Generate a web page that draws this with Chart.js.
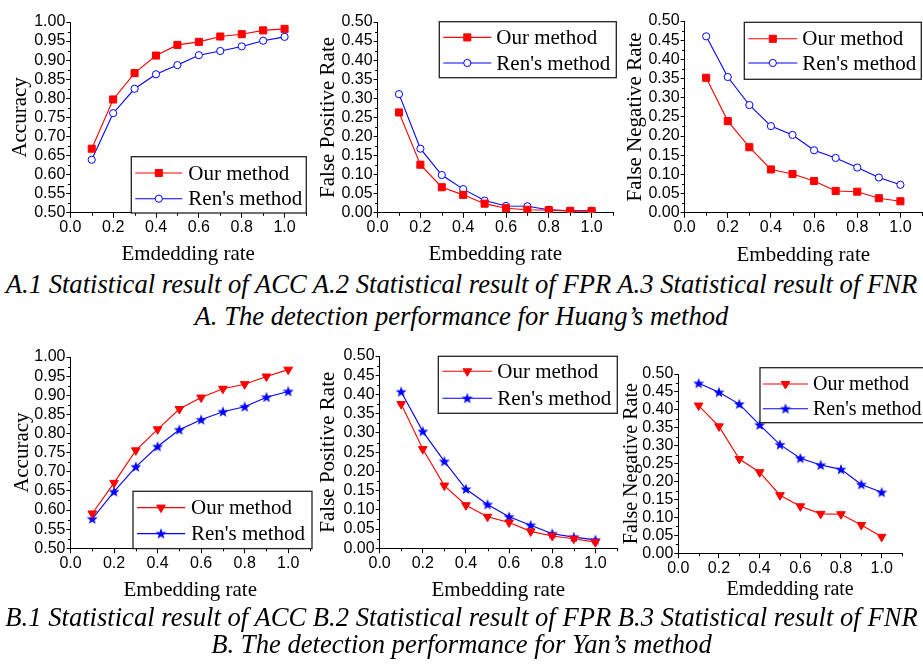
<!DOCTYPE html>
<html><head><meta charset="utf-8">
<script src="https://cdn.jsdelivr.net/npm/chart.js@4.4.0/dist/chart.umd.min.js"></script>
<style>
html,body{margin:0;padding:0;background:#fff;width:923px;height:664px;overflow:hidden;}
body{position:relative;}
canvas{position:absolute;}
.cap{position:absolute;left:0;width:923px;text-align:center;font-family:"Liberation Serif","Times New Roman",serif;font-style:italic;white-space:nowrap;line-height:1;color:#000;}
</style></head><body>
<canvas id="a1"></canvas><canvas id="a2"></canvas><canvas id="a3"></canvas>
<canvas id="b1"></canvas><canvas id="b2"></canvas><canvas id="b3"></canvas>
<div class="cap" id="capA1">A.1 Statistical result of ACC A.2 Statistical result of FPR A.3 Statistical result of FNR</div>
<div class="cap" id="capA2">A. The detection performance for Huang’s method</div>
<div class="cap" id="capB1">B.1 Statistical result of ACC B.2 Statistical result of FPR B.3 Statistical result of FNR</div>
<div class="cap" id="capB2">B. The detection performance for Yan’s method</div>
<script>
// ---- data ----
const rates = [0.1,0.2,0.3,0.4,0.5,0.6,0.7,0.8,0.9,1.0];
const seriesNames = ["Our method","Ren's method"];
// A: Huang's method
const accOurA = [0.668,0.797,0.866,0.912,0.940,0.948,0.962,0.968,0.978,0.982];
const accRenA = [0.639,0.761,0.825,0.863,0.887,0.913,0.924,0.936,0.951,0.961];
const fprOurA = [0.263,0.126,0.067,0.047,0.024,0.012,0.008,0.007,0.005,0.005];
const fprRenA = [0.311,0.168,0.099,0.062,0.032,0.018,0.017,0.008,0.005,0.005];
const fnrOurA = [0.352,0.239,0.171,0.113,0.101,0.083,0.057,0.055,0.038,0.030];
const fnrRenA = [0.460,0.354,0.281,0.226,0.203,0.163,0.143,0.118,0.092,0.073];
// B: Yan's method
const accOurB = [0.591,0.671,0.756,0.811,0.864,0.894,0.917,0.929,0.949,0.967];
const accRenB = [0.577,0.648,0.713,0.766,0.810,0.836,0.857,0.870,0.895,0.910];
const fprOurB = [0.375,0.258,0.163,0.112,0.082,0.067,0.044,0.032,0.025,0.016];
const fprRenB = [0.407,0.304,0.226,0.154,0.114,0.082,0.060,0.038,0.029,0.022];
const fnrOurB = [0.412,0.354,0.263,0.226,0.162,0.131,0.110,0.109,0.079,0.046];
const fnrRenB = [0.474,0.449,0.416,0.358,0.303,0.265,0.246,0.234,0.192,0.170];
// ticks
const xTicks = [0.0,0.2,0.4,0.6,0.8,1.0];
const xMinorTicks = [0.1,0.3,0.5,0.7,0.9,1.1];
const yTicksAcc = [0.50,0.55,0.60,0.65,0.70,0.75,0.80,0.85,0.90,0.95,1.00];
const yTicksRate = [0.00,0.05,0.10,0.15,0.20,0.25,0.30,0.35,0.40,0.45,0.50];

// ---- markers ----
function makeStar(color){
  const c=document.createElement('canvas'); c.width=12; c.height=12;
  const g=c.getContext('2d'); g.fillStyle=color; g.beginPath();
  for(let i=0;i<10;i++){const r=i%2?2.4:5.8; const a=-Math.PI/2+i*Math.PI/5; g.lineTo(6+r*Math.cos(a),6.4+r*Math.sin(a));}
  g.closePath(); g.fill(); return c;
}
const starBlue = makeStar('#0000ff');
const styleA = [
  {pointStyle:'rect',pointRadius:5,pointBackgroundColor:'#ff0000',pointBorderColor:'#ff0000',pointBorderWidth:1,borderColor:'#ff0000'},
  {pointStyle:'circle',pointRadius:3.6,pointBackgroundColor:'#ffffff',pointBorderColor:'#0000ff',pointBorderWidth:1,borderColor:'#0000ff'}
];
const styleB = [
  {pointStyle:'triangle',pointRotation:180,pointRadius:5,pointBackgroundColor:'#ff0000',pointBorderColor:'#ff0000',pointBorderWidth:1,borderColor:'#ff0000'},
  {pointStyle:starBlue,pointRadius:5,pointBackgroundColor:'#0000ff',pointBorderColor:'#0000ff',pointBorderWidth:0,borderColor:'#0000ff'}
];

// ---- plugins ----
const minorTicks = {
  id:'minorTicks',
  afterDraw(chart,args,o){
    const ctx=chart.ctx, xs=chart.scales.x, ys=chart.scales.y;
    ctx.save(); ctx.strokeStyle='#000'; ctx.lineWidth=1; ctx.beginPath();
    o.x.forEach(v=>{const p=Math.round(xs.getPixelForValue(v))+0.5; ctx.moveTo(p,xs.top); ctx.lineTo(p,xs.top+3);});
    o.y.forEach(v=>{const p=Math.round(ys.getPixelForValue(v))+0.5; ctx.moveTo(ys.right,p); ctx.lineTo(ys.right-2.5,p);});
    ctx.stroke(); ctx.restore();
  }
};
const boxLegend = {
  id:'boxLegend',
  afterDraw(chart,args,o){
    const ctx=chart.ctx, ox=o.offset[0], oy=o.offset[1];
    const x1=o.box[0]-ox, y1=o.box[1]-oy, x2=o.box[2]-ox, y2=o.box[3]-oy;
    ctx.save();
    ctx.fillStyle='#fff'; ctx.fillRect(x1,y1,x2-x1,y2-y1);
    ctx.strokeStyle='#222'; ctx.lineWidth=1.3; ctx.strokeRect(x1,y1,x2-x1,y2-y1);
    chart.data.datasets.forEach((ds,i)=>{
      const y=o.rows[i]-oy, a=o.line[0]-ox, b=o.line[1]-ox;
      ctx.strokeStyle=ds.borderColor; ctx.lineWidth=ds.borderWidth;
      ctx.beginPath(); ctx.moveTo(a,y); ctx.lineTo(b,y); ctx.stroke();
      ctx.fillStyle=ds.pointBackgroundColor; ctx.strokeStyle=ds.pointBorderColor; ctx.lineWidth=ds.pointBorderWidth;
      Chart.helpers.drawPoint(ctx,{pointStyle:ds.pointStyle,rotation:ds.pointRotation||0,radius:ds.pointRadius,borderWidth:ds.pointBorderWidth},(a+b)/2,y);
      ctx.fillStyle='#000'; ctx.font=o.font+'px "Liberation Serif", "Times New Roman", serif'; ctx.textBaseline='middle'; ctx.textAlign='left';
      ctx.fillText(ds.label,o.text-ox,y+1);
    });
    ctx.restore();
  }
};

// ---- panels ----
const panels = [
  {id:'a1',L:70,T:22.3,R:307.6,B:213.3,YT:19.7,XT:254.5,ts:21,ytitle:'Accuracy',xtitle:'Emdedding rate',ymin:0.5,ymax:1.0,yt:yTicksAcc,d:[accOurA,accRenA],st:styleA,
   leg:{box:[131,157,306,213.3],line:[135,182],text:188,rows:[173.3,199],font:21}},
  {id:'a2',L:377.3,T:22.3,R:614.5,B:213.3,YT:327.7,XT:254.5,ts:21,ytitle:'False Positive Rate',xtitle:'Embedding rate',ymin:0,ymax:0.5,yt:yTicksRate,d:[fprOurA,fprRenA],st:styleA,
   leg:{box:[439,22,616,78],line:[443,491],text:496,rows:[37.7,63.3],font:21}},
  {id:'a3',L:684.3,T:20.7,R:924,B:212.3,YT:634.7,XT:254.5,ts:21,ytitle:'False Negative Rate',xtitle:'Embedding rate',ymin:0,ymax:0.5,yt:yTicksRate,d:[fnrOurA,fnrRenA],st:styleA,
   leg:{box:[744,22,921,79],line:[748,797],text:802,rows:[38.5,62.7],font:21}},
  {id:'b1',L:70.5,T:356.7,R:312,B:548.3,YT:22,XT:590,ts:21,ytitle:'Accuracy',xtitle:'Embedding rate',ymin:0.5,ymax:1.0,yt:yTicksAcc,d:[accOurB,accRenB],st:styleB,
   leg:{box:[133,491,312,548.3],line:[137,185],text:191,rows:[507.3,533.3],font:21}},
  {id:'b2',L:379.3,T:355.7,R:618.5,B:548.3,YT:327.7,XT:590,ts:21,ytitle:'False Positive Rate',xtitle:'Embedding rate',ymin:0,ymax:0.5,yt:yTicksRate,d:[fprOurB,fprRenB],st:styleB,
   leg:{box:[438,356,617,413],line:[442,492],text:497,rows:[371,398],font:21}},
  {id:'b3',L:678.3,T:374.3,R:902,B:553.3,YT:632,XT:590,ts:20,ytitle:'False Negative Rate',xtitle:'Emdedding rate',ymin:0,ymax:0.5,yt:yTicksRate,d:[fnrOurB,fnrRenB],st:styleB,
   leg:{box:[760,368,926,423],line:[763,808],text:813,rows:[384.3,409],font:20}}
];

panels.forEach(p=>{
  const CL=p.YT-14, CT=p.T-14, CR=Math.max(p.R+4,p.leg.box[2]+3), CB=p.XT+14;
  const padR=CR-p.R;
  const cv=document.getElementById(p.id);
  const W=Math.round(CR-CL), H=Math.round(CB-CT);
  cv.width=W; cv.height=H; cv.style.left=CL+'px'; cv.style.top=CT+'px'; cv.style.width=W+'px'; cv.style.height=H+'px';
  const yMinor=p.yt.slice(0,-1).map((v,i)=>(v+p.yt[i+1])/2);
  new Chart(cv,{
    type:'line',
    data:{datasets:p.d.map((arr,i)=>Object.assign({
      label:seriesNames[i],
      data:rates.map((r,k)=>({x:r,y:arr[k]})),
      borderWidth:1.1,fill:false,tension:0
    },p.st[i]))},
    options:{
      responsive:false,animation:false,devicePixelRatio:1,
      layout:{padding:{left:0,top:14,right:padR,bottom:0}},
      plugins:{legend:{display:false},tooltip:{enabled:false},
        minorTicks:{x:xMinorTicks,y:yMinor},
        boxLegend:Object.assign({offset:[CL,CT]},p.leg)},
      scales:{
        x:{type:'linear',min:0,max:1.1,
          afterBuildTicks:s=>{s.ticks=xTicks.map(v=>({value:v}));},
          afterFit:s=>{s.height=CB-p.B;},
          grid:{display:true,drawOnChartArea:false,drawTicks:true,tickLength:5,tickColor:'#000'},
          border:{display:true,color:'#000',width:1},
          ticks:{autoSkip:false,maxRotation:0,minRotation:0,padding:2,color:'#000',
            font:{family:'"Liberation Sans", Arial, sans-serif',size:16,lineHeight:1},
            callback:v=>Number(v).toFixed(1)},
          title:{display:true,text:p.xtitle,color:'#000',font:{family:'"Liberation Serif", "Times New Roman", serif',size:p.ts,lineHeight:1},padding:{top:0,bottom:14-p.ts/2}}
        },
        y:{type:'linear',min:p.ymin,max:p.ymax,
          afterBuildTicks:s=>{s.ticks=p.yt.map(v=>({value:v}));},
          afterFit:s=>{s.width=p.L-CL;},
          grid:{display:true,drawOnChartArea:false,drawTicks:true,tickLength:4,tickColor:'#000'},
          border:{display:true,color:'#000',width:1},
          ticks:{autoSkip:false,padding:1,color:'#000',
            font:{family:'"Liberation Sans", Arial, sans-serif',size:16,lineHeight:1},
            callback:v=>Number(v).toFixed(2)},
          title:{display:true,text:p.ytitle,color:'#000',font:{family:'"Liberation Serif", "Times New Roman", serif',size:p.ts,lineHeight:1},padding:{top:14-p.ts/2,bottom:0}}
        }
      }
    },
    plugins:[minorTicks,boxLegend]
  });
});

// ---- captions ----
(function(){
  const g=document.createElement('canvas').getContext('2d');
  g.font='italic 100px "Liberation Serif"';
  const w=g.measureText(document.getElementById('capA1').textContent).width;
  const s=100*913/w;
  const base={capA1:293,capA2:325,capB1:626,capB2:653};
  Object.keys(base).forEach(id=>{
    const el=document.getElementById(id);
    el.style.fontSize=s+'px';
    el.style.top=(base[id]-0.8375*s)+'px';
  });
})();
</script>
</body></html>
